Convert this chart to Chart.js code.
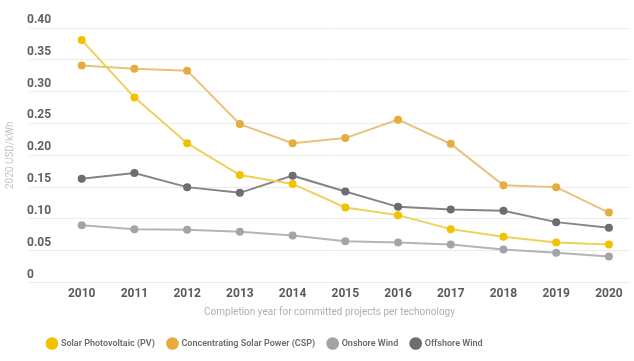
<!DOCTYPE html>
<html>
<head>
<meta charset="utf-8">
<script src="https://cdn.jsdelivr.net/npm/chart.js@4"></script>
<style>
  html, body { margin: 0; padding: 0; background: #fff; }
  #wrap { width: 634px; height: 361px; }
</style>
</head>
<body>
<div id="wrap"><canvas id="lcoeChart"></canvas></div>
<script>
const years = [2010, 2011, 2012, 2013, 2014, 2015, 2016, 2017, 2018, 2019, 2020];
const solarPV = [0.381, 0.291, 0.219, 0.169, 0.155, 0.118, 0.106, 0.084, 0.072, 0.063, 0.060];
const csp = [0.341, 0.336, 0.333, 0.249, 0.219, 0.227, 0.256, 0.218, 0.153, 0.150, 0.110];
const onshoreWind = [0.090, 0.084, 0.083, 0.080, 0.074, 0.065, 0.063, 0.060, 0.052, 0.047, 0.041];
const offshoreWind = [0.163, 0.172, 0.150, 0.141, 0.168, 0.143, 0.119, 0.115, 0.113, 0.095, 0.086];
const yTicks = [0, 0.05, 0.10, 0.15, 0.20, 0.25, 0.30, 0.35, 0.40];

function points(values) {
  return years.map((yr, i) => ({ x: yr, y: values[i] }));
}

function series(label, values, lineColor, dotColor) {
  return {
    label: label,
    data: points(values),
    borderColor: lineColor,
    backgroundColor: dotColor,
    pointBackgroundColor: dotColor,
    pointBorderColor: dotColor,
    pointRadius: 4,
    pointBorderWidth: 0,
    borderWidth: 2,
    tension: 0
  };
}

// pull the legend row a bit to the left of centre
const shiftLegend = {
  id: 'shiftLegend',
  afterLayout(chart) {
    chart.legend.right -= 100;
  }
};

const ctx = document.getElementById('lcoeChart').getContext('2d');
const myChart = new Chart(ctx, {
  type: 'line',
  data: {
    datasets: [
      series('Solar Photovoltaic (PV)', solarPV, '#ecd25a', '#f2c200'),
      series('Concentrating Solar Power (CSP)', csp, '#e6c27a', '#e6ad3c'),
      series('Onshore Wind', onshoreWind, '#b4b4b8', '#a4a4a8'),
      series('Offshore Wind', offshoreWind, '#858589', '#6c6c72')
    ]
  },
  options: {
    responsive: true,
    maintainAspectRatio: false,
    animation: false,
    layout: { padding: { top: 28, right: 4, bottom: 3, left: 0 } },
    scales: {
      x: {
        type: 'linear',
        min: 2009,
        max: 2020.4,
        afterBuildTicks: (axis) => {
          axis.ticks = years.map(v => ({ value: v }));
        },
        grid: { display: false, drawTicks: false },
        border: { display: false },
        ticks: {
          padding: 4,
          color: '#5a5a5a',
          font: { family: 'Roboto', size: 12, weight: 'bold' },
          callback: (v) => String(v)
        },
        title: {
          display: true,
          text: 'Completion year for committed projects per techonology',
          color: '#b0b0b0',
          font: { family: 'Roboto', size: 10 },
          padding: { top: 1, bottom: 8 }
        }
      },
      y: {
        min: 0,
        max: 0.4,
        afterFit: (axis) => { axis.width = 29; },
        afterBuildTicks: (axis) => {
          axis.ticks = yTicks.map(v => ({ value: v }));
        },
        grid: { color: '#ececec', lineWidth: 1, drawTicks: false },
        border: { display: false },
        ticks: {
          mirror: true,
          padding: -2,
          labelOffset: -8,
          color: '#5f5f5f',
          font: { family: 'Roboto', size: 12, weight: 'bold' },
          callback: (v) => v === 0 ? '0' : v.toFixed(2)
        },
        title: {
          display: true,
          text: '2020 USD/kWh',
          color: '#c4c4c4',
          font: { family: 'Roboto', size: 10 },
          padding: { top: 4, bottom: 0 }
        }
      }
    },
    plugins: {
      legend: {
        position: 'bottom',
        labels: {
          usePointStyle: true,
          pointStyle: 'circle',
          boxWidth: 12,
          boxHeight: 12,
          padding: 13,
          color: '#6a6a6a',
          font: { family: 'Roboto', size: 9, weight: '600' },
          generateLabels: (chart) => chart.data.datasets.map((ds, i) => ({
            text: ds.label,
            fillStyle: ds.pointBackgroundColor,
            strokeStyle: ds.pointBackgroundColor,
            lineWidth: 0,
            pointStyle: 'circle',
            fontColor: '#6a6a6a',
            datasetIndex: i,
            hidden: false
          }))
        }
      },
      tooltip: { enabled: false }
    }
  },
  plugins: [shiftLegend]
});
</script>
</body>
</html>
